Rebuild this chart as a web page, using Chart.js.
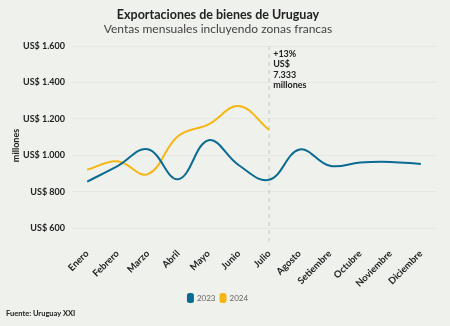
<!DOCTYPE html>
<html lang="es">
<head>
<meta charset="utf-8">
<title>Exportaciones de bienes de Uruguay</title>
<script src="https://cdn.jsdelivr.net/npm/chart.js@4/dist/chart.umd.min.js"></script>
<style>
  html, body { margin: 0; padding: 0; background: #eff1ec; }
  .wrap { position: relative; width: 450px; height: 326px; }
</style>
</head>
<body>
<div class="wrap">
  <canvas id="exportChart"></canvas>
</div>
<script>
const meses = ["Enero", "Febrero", "Marzo", "Abril", "Mayo", "Junio", "Julio",
  "Agosto", "Setiembre", "Octubre", "Noviembre", "Diciembre"];
// millones de US$
const ventas2023 = [855, 940, 1033, 868, 1082, 945, 865, 1031, 942, 960, 963, 952];
const ventas2024 = [920, 967, 896, 1106, 1170, 1270, 1139];
const yTicks = [600, 800, 1000, 1200, 1400, 1600];
const nota = ["+13%", "US$", "7.333", "millones"];
const fuente = "Fuente: Uruguay XXI";

const FONT = "Lato, 'Open Sans', sans-serif";
const AZUL = "#0b6b93";
const AMARILLO = "#f7b512";
const TEXTO = "#222";

// línea punteada en julio + texto del acumulado
const notaJulio = {
  id: "notaJulio",
  beforeDatasetsDraw(chart) {
    const { ctx, chartArea, scales } = chart;
    const x = scales.x.getPixelForValue(6);
    ctx.save();
    ctx.strokeStyle = "#d9dbd7";
    ctx.lineWidth = 2;
    ctx.setLineDash([4, 4]);
    ctx.beginPath();
    ctx.moveTo(x, chartArea.top);
    ctx.lineTo(x, chartArea.bottom);
    ctx.stroke();
    ctx.restore();
  },
  afterDraw(chart) {
    const { ctx, scales } = chart;
    const x = scales.x.getPixelForValue(6) + 4;
    ctx.save();
    ctx.fillStyle = TEXTO;
    ctx.font = "bold 9px " + FONT;
    ctx.textBaseline = "middle";
    nota.forEach((t, i) => ctx.fillText(t, x, 54 + i * 10.4));
    ctx.font = "bold 7.5px " + FONT;
    ctx.fillText(fuente, 6, 314);
    ctx.restore();
  }
};

const ctx = document.getElementById("exportChart").getContext("2d");
new Chart(ctx, {
  type: "line",
  data: {
    labels: meses,
    datasets: [
      { label: "2023", data: ventas2023, borderColor: AZUL, backgroundColor: AZUL },
      { label: "2024", data: ventas2024, borderColor: AMARILLO, backgroundColor: AMARILLO }
    ]
  },
  options: {
    responsive: true,
    maintainAspectRatio: false,
    animation: false,
    elements: {
      line: { borderWidth: 2, tension: 0.4 },
      point: { radius: 0 }
    },
    layout: { padding: { left: 0, right: 14, top: 0, bottom: 14 } },
    scales: {
      x: {
        offset: true,
        grid: { display: false, drawTicks: false },
        border: { display: false },
        afterFit(scale) { scale.height = 44; },
        ticks: {
          color: TEXTO,
          minRotation: 45,
          maxRotation: 45,
          autoSkip: false,
          padding: 3,
          font: { family: FONT, size: 9.5, weight: "bold" }
        }
      },
      y: {
        min: 507,
        max: 1600,
        afterBuildTicks(axis) { axis.ticks = yTicks.map(v => ({ value: v })); },
        afterFit(scale) { scale.width = 72; },
        grid: { color: "rgba(0,0,0,0.035)", drawTicks: false },
        border: { display: false },
        title: {
          display: true,
          text: "millones",
          color: TEXTO,
          padding: { top: 11, bottom: 0 },
          font: { family: FONT, size: 9, weight: "bold" }
        },
        ticks: {
          color: TEXTO,
          padding: 7,
          font: { family: FONT, size: 9, weight: "bold" },
          callback: v => "US$ " + v.toLocaleString("es-UY")
        }
      }
    },
    plugins: {
      title: {
        display: true,
        text: "Exportaciones de bienes de Uruguay",
        color: TEXTO,
        padding: { top: 7, bottom: 0 },
        font: { family: FONT, size: 12.5, weight: "bold" }
      },
      subtitle: {
        display: true,
        text: "Ventas mensuales incluyendo zonas francas",
        color: "#444",
        padding: { top: 0, bottom: 9.6 },
        font: { family: FONT, size: 12 }
      },
      legend: {
        position: "bottom",
        labels: {
          color: "#666",
          boxWidth: 5,
          boxHeight: 8,
          useBorderRadius: true,
          borderRadius: 1.5,
          padding: 5,
          font: { family: FONT, size: 8 }
        }
      },
      tooltip: { enabled: false }
    }
  },
  plugins: [notaJulio]
});
</script>
</body>
</html>
